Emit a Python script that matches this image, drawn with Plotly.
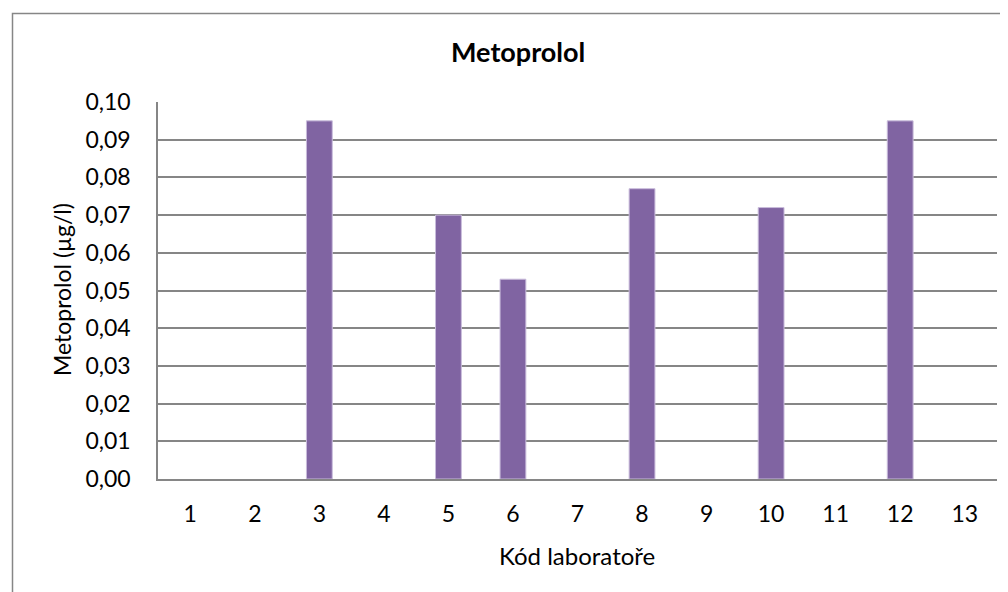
import plotly.graph_objects as go

categories = [str(i) for i in range(1, 14)]
values = [None, None, 0.095, None, 0.070, 0.053, None, 0.077, None, 0.072, None, 0.095, None]
y_ticks = [i / 100 for i in range(0, 11)]
y_tick_labels = ["0,%02d" % i if i < 10 else "0,10" for i in range(0, 11)]

FONT = "Lato"
GRAY = "#868686"

# page is offset by 8px body margin -> figure drawn at (8, 8)
W, H = 1000, 584
L, R, T, B = 150, 11, 94, 113
pw = W - L - R
ph = H - T - B

fig = go.Figure()
fig.add_trace(go.Bar(
    x=categories, y=values,
    marker=dict(color="#8064A2", line=dict(color="#C9BCDB", width=1)),
    showlegend=False,
))

def px_x(p):
    return (p - L) / pw

def px_y(p):
    return (H - B - p) / ph

fig.update_layout(
    width=W, height=H,
    margin=dict(l=L, r=R, t=T, b=B, pad=0),
    paper_bgcolor="white", plot_bgcolor="white",
    bargap=0.6,
    font=dict(family=FONT, size=23, color="black"),
    xaxis=dict(
        type="category", showgrid=False, showline=True, linecolor=GRAY, linewidth=1.5,
        ticks="outside", ticklen=14, tickcolor="white", tickfont=dict(size=23),
    ),
    yaxis=dict(
        range=[0, 0.1], tickvals=y_ticks, ticktext=y_tick_labels,
        showgrid=True, gridcolor=GRAY, gridwidth=1.5,
        showline=True, linecolor=GRAY, linewidth=1.5, zeroline=False,
        ticks="outside", ticklen=21, tickcolor="white", tickfont=dict(size=23),
    ),
    annotations=[
        dict(text="<b>Metoprolol</b>", xref="paper", yref="paper", x=px_x(510), y=px_y(43),
             xanchor="center", yanchor="middle", showarrow=False, font=dict(size=27)),
        dict(text="Kód laboratoře", xref="paper", yref="paper", x=px_x(569), y=px_y(547),
             xanchor="center", yanchor="middle", showarrow=False, font=dict(size=24)),
        dict(text="Metoprolol (µg/l)", xref="paper", yref="paper", x=px_x(54), y=px_y(282),
             xanchor="center", yanchor="middle", showarrow=False, textangle=-90, font=dict(size=23)),
    ],
    shapes=[dict(
        type="rect", xref="paper", yref="paper",
        x0=px_x(4.5), x1=px_x(W + 20),
        y0=px_y(H + 20), y1=px_y(5.5),
        line=dict(color=GRAY, width=1.5), fillcolor="rgba(0,0,0,0)", layer="above",
    )],
)

fig.write_html("out.html")
